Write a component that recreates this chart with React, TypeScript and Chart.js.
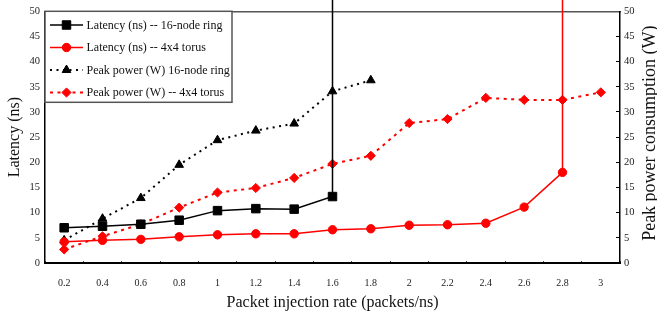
import React, { useEffect, useRef } from 'react';
import { Chart, registerables, PointElement } from 'chart.js';

Chart.register(...registerables);

// ---- data ----
const xLabels = ['0.2', '0.4', '0.6', '0.8', '1', '1.2', '1.4', '1.6', '1.8', '2', '2.2', '2.4', '2.6', '2.8', '3'];
const ringLatency = [7.0, 7.3, 7.7, 8.5, 10.4, 10.8, 10.7, 13.2];
const torusLatency = [4.2, 4.5, 4.7, 5.2, 5.6, 5.8, 5.8, 6.6, 6.8, 7.5, 7.6, 7.9, 11.1, 18.0];
const ringPower = [4.5, 8.8, 12.9, 19.5, 24.4, 26.3, 27.7, 34.1, 36.3];
const torusPower = [2.7, 5.3, 7.7, 11.0, 14.0, 14.9, 16.9, 19.7, 21.3, 27.8, 28.6, 32.8, 32.4, 32.4, 33.9];
const saturatedLatency = 1000; // network saturated: latency goes off the scale
const seriesNames = [
  'Latency (ns) -- 16-node ring',
  'Latency (ns) -- 4x4 torus',
  'Peak power (W) 16-node ring',
  'Peak power (W) -- 4x4 torus',
];
const yTitleLeft = 'Latency (ns)';
const yTitleRight = 'Peak power consumption (W)';
const xTitle = 'Packet injection rate (packets/ns)';

const FONT = '"Liberation Serif", "Times New Roman", serif';

const points = (vals: number[]) => vals.map((y, i) => ({ x: xLabels[i], y }));
const withSaturation = (vals: number[]) => [
  ...points(vals),
  { x: xLabels[vals.length - 1], y: saturatedLatency },
];
const radii = (vals: number[], r: number, sat: boolean) =>
  sat ? vals.map(() => r).concat([0]) : vals.map(() => r);

const legendPlugin = {
  id: 'boxLegend',
  afterDatasetsDraw(chart: any) {
    const { ctx, chartArea } = chart;
    const left = chartArea.left;
    const top = chartArea.top;
    ctx.save();
    ctx.fillStyle = '#fff';
    ctx.fillRect(left, top, 187, 91);
    ctx.strokeStyle = '#555';
    ctx.lineWidth = 1.5;
    ctx.strokeRect(left, top, 187, 91);
    chart.data.datasets.forEach((ds: any, i: number) => {
      const yy = top + 13.7 + i * 22.5;
      ctx.save();
      ctx.beginPath();
      ctx.setLineDash(ds.borderDash || []);
      ctx.strokeStyle = ds.borderColor;
      ctx.lineWidth = ds.borderWidth;
      ctx.moveTo(left + 5, yy);
      ctx.lineTo(left + 38, yy);
      ctx.stroke();
      ctx.restore();
      const r = Array.isArray(ds.pointRadius) ? ds.pointRadius[0] : ds.pointRadius;
      const p = new (PointElement as any)({
        x: left + 21.5,
        y: yy,
        options: {
          pointStyle: ds.pointStyle,
          radius: r,
          rotation: 0,
          borderWidth: ds.pointBorderWidth,
          borderColor: ds.pointBorderColor,
          backgroundColor: ds.pointBackgroundColor,
        },
      });
      p.draw(ctx, chartArea);
      ctx.fillStyle = '#111';
      ctx.font = `12px ${FONT}`;
      ctx.textAlign = 'left';
      ctx.textBaseline = 'middle';
      ctx.fillText(seriesNames[i], left + 41.5, yy + 0.5);
    });
    ctx.restore();
  },
};

const rightTitlePlugin = {
  id: 'rightTitle',
  afterDraw(chart: any) {
    const { ctx, chartArea } = chart;
    ctx.save();
    ctx.translate(chart.width - 7, (chartArea.top + chartArea.bottom) / 2 - 4);
    ctx.rotate(-Math.PI / 2);
    ctx.fillStyle = '#111';
    ctx.font = `18px ${FONT}`;
    ctx.textAlign = 'center';
    ctx.textBaseline = 'middle';
    ctx.fillText(yTitleRight, 0, 0);
    ctx.restore();
  },
};

export default function App() {
  const ref = useRef<HTMLCanvasElement | null>(null);
  useEffect(() => {
    document.body.style.margin = '0';
    if (!ref.current) return;
    const chart = new Chart(ref.current, {
      type: 'line',
      data: {
        labels: xLabels,
        datasets: [
          {
            label: seriesNames[0],
            data: withSaturation(ringLatency) as any,
            yAxisID: 'y',
            borderColor: '#000',
            backgroundColor: '#000',
            borderWidth: 1.5,
            pointStyle: 'rect',
            pointRadius: radii(ringLatency, 6, true),
            pointBorderWidth: 1,
            pointBorderColor: '#000',
            pointBackgroundColor: '#000',
            tension: 0,
            clip: false as any,
          },
          {
            label: seriesNames[1],
            data: withSaturation(torusLatency) as any,
            yAxisID: 'y',
            borderColor: '#ff0000',
            backgroundColor: '#ff0000',
            borderWidth: 1.5,
            pointStyle: 'circle',
            pointRadius: radii(torusLatency, 4.2, true),
            pointBorderWidth: 1,
            pointBorderColor: '#ff0000',
            pointBackgroundColor: '#ff0000',
            tension: 0,
            clip: false as any,
          },
          {
            label: seriesNames[2],
            data: points(ringPower) as any,
            yAxisID: 'y1',
            borderColor: '#000',
            backgroundColor: '#000',
            borderWidth: 2,
            borderDash: [2, 4.5],
            pointStyle: 'triangle',
            pointRadius: radii(ringPower, 5, false),
            pointBorderWidth: 1,
            pointBorderColor: '#000',
            pointBackgroundColor: '#000',
            tension: 0,
          },
          {
            label: seriesNames[3],
            data: points(torusPower) as any,
            yAxisID: 'y1',
            borderColor: '#ff0000',
            backgroundColor: '#ff0000',
            borderWidth: 2,
            borderDash: [3, 4.5],
            pointStyle: 'rectRot',
            pointRadius: radii(torusPower, 4.6, false),
            pointBorderWidth: 1,
            pointBorderColor: '#ff0000',
            pointBackgroundColor: '#ff0000',
            tension: 0,
          },
        ],
      },
      options: {
        animation: false,
        responsive: false,
        layout: { padding: 0 },
        plugins: { legend: { display: false }, tooltip: { enabled: false } },
        scales: {
          x: {
            type: 'category',
            position: 'bottom',
            offset: true,
            grid: {
              display: true,
              offset: true,
              drawTicks: false,
              drawOnChartArea: true,
              color: '#000',
              lineWidth: 1,
            },
            border: { display: true, color: '#000', width: 2, dash: [0, 250, 4, 0] },
            ticks: {
              font: { family: FONT, size: 10 },
              color: '#222',
              padding: 14,
              maxRotation: 0,
              autoSkip: false,
            },
            title: {
              display: true,
              text: xTitle,
              font: { family: FONT, size: 16 },
              color: '#111',
              padding: { top: 0, bottom: 8 },
            },
            afterFit: (s: any) => {
              s.height = 57;
            },
          },
          xTop: {
            type: 'category',
            position: 'top',
            offset: true,
            grid: { display: false, drawTicks: false },
            border: { display: true, color: '#555', width: 1.5 },
            ticks: { display: false },
            afterFit: (s: any) => {
              s.height = 9;
            },
          },
          y: {
            type: 'linear',
            position: 'left',
            min: 0,
            max: 50,
            grid: { display: false, drawTicks: false },
            border: { display: true, color: '#000', width: 1.5 },
            ticks: {
              stepSize: 5,
              font: { family: FONT, size: 10.5 },
              color: '#222',
              padding: 5,
            },
            title: {
              display: true,
              text: yTitleLeft,
              font: { family: FONT, size: 16 },
              color: '#111',
              padding: { top: 5, bottom: 0 },
            },
            afterFit: (s: any) => {
              s.width = 45;
            },
          },
          y1: {
            type: 'linear',
            position: 'right',
            min: 0,
            max: 50,
            grid: {
              display: true,
              drawTicks: false,
              drawOnChartArea: true,
              color: '#000',
              lineWidth: 1,
            },
            border: { display: true, color: '#000', width: 1.5, dash: [0, 571, 4, 0] },
            ticks: {
              stepSize: 5,
              font: { family: FONT, size: 10.5 },
              color: '#222',
              padding: 4,
            },
            afterFit: (s: any) => {
              s.width = 37;
            },
          },
        },
      } as any,
      plugins: [legendPlugin, rightTitlePlugin],
    });
    return () => chart.destroy();
  }, []);
  return (
    <div style={{ width: 657, height: 320 }}>
      <canvas ref={ref} width={657} height={320} />
    </div>
  );
}
